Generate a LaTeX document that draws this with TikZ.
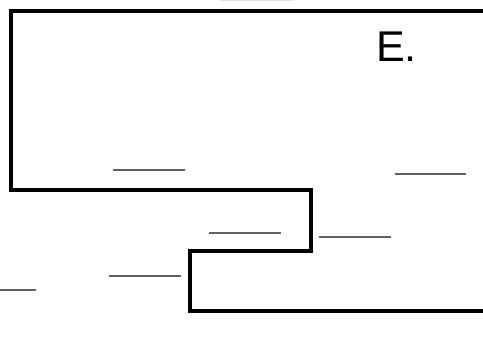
\documentclass[tikz,border=0pt]{standalone}
\usepackage{fontspec}
\setmainfont{Liberation Sans}
\begin{document}
\begin{tikzpicture}[x=1pt,y=-1pt,
  outline/.style={line width=3.2pt,line join=miter},
  blank/.style={line width=1.9pt,draw=black!62}]
\useasboundingbox (0,0) rectangle (483,339);
\draw[line width=1.5pt,draw=black!13] (221,0.5) -- (293,0.5);
\draw[outline] (484,11) -- (11,11) -- (11,190) -- (311,190) -- (311,251) -- (190,251) -- (190,311) -- (484,311);
\foreach \a/\b/\y in {113/185/170, 395/466/174, 209/281/233, 319/391/237, 109/181/276, -1/36/290}
  \draw[blank] (\a,\y) -- (\b,\y);
\node[anchor=base west,inner sep=0pt,font=\fontsize{43}{43}\selectfont] (e) at (376,62) {E.};
\end{tikzpicture}
\end{document}
